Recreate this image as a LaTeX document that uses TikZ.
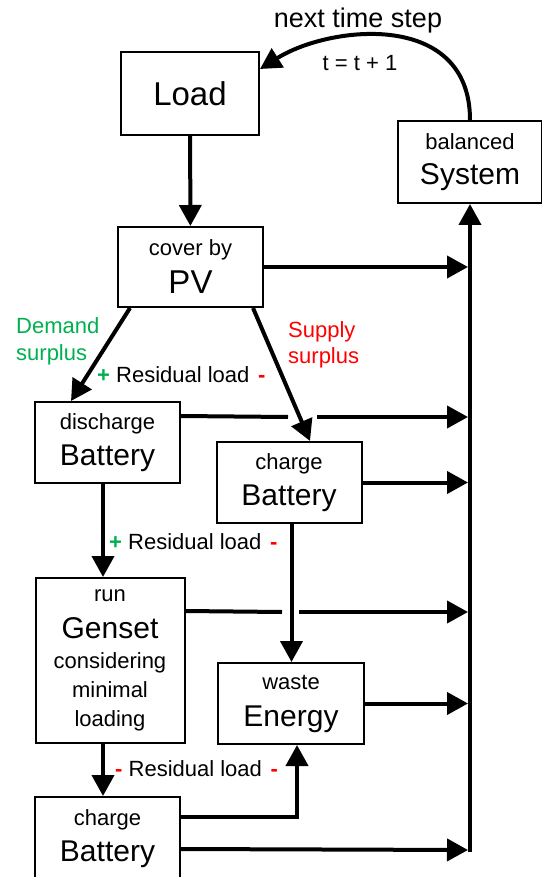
\documentclass[tikz,border=0pt]{standalone}
\usepackage{fontspec}
\setmainfont{Liberation Sans}
\usetikzlibrary{arrows.meta,calc}
\definecolor{dgreen}{RGB}{0,176,80}
\definecolor{dred}{RGB}{255,0,0}
\newcommand\fsz[1]{\fontsize{#1}{29}\selectfont}
\begin{document}
\begin{tikzpicture}[x=1pt,y=-1pt,
  box/.style={draw, line width=2pt, inner sep=0pt, align=center, font=\fsz{22}},
  ln/.style={line width=4pt},
  arr/.style={line width=4pt, -{Triangle[length=21pt,width=22pt]}},
  lbl/.style={inner sep=0pt, font=\fsz{22}},
]
\useasboundingbox (0,0) rectangle (541,877);

% boxes
\node[box, minimum width=138, minimum height=83] (load) at (190,93.5) {\fsz{33}Load};
\node[box, minimum width=144, minimum height=82] (sys) at (470,162) {balanced\\[6pt]{\fsz{30}System}};
\node[box, minimum width=145, minimum height=80] (pv) at (190.5,267) {cover by\\[9pt]{\fsz{33}PV}};
\node[box, minimum width=145, minimum height=81] (dis) at (107.5,442.5) {discharge\\[7pt]{\fsz{30}Battery}};
\node[box, minimum width=145, minimum height=81] (cb1) at (289,482.5) {charge\\[7pt]{\fsz{30}Battery}};
\node[box, minimum width=149, minimum height=165] (gen) at (110,660.5) {run\\[8pt]{\fsz{30}Genset}\\[1pt]considering\\minimal\\loading};
\node[box, minimum width=146, minimum height=81] (en) at (291,703.5) {waste\\[8pt]{\fsz{30}Energy}};
\node[box, minimum width=145, minimum height=83] (cb2) at (107.5,838.5) {charge\\[7pt]{\fsz{30}Battery}};

% helper coordinates
\coordinate (bus) at (468,0);
\coordinate (busbot) at (470,852);
\coordinate (xl) at (103,0);
\coordinate (xm) at (291.5,0);

% texts
\node[lbl, font=\fsz{27}] (nts) at (358,21) {next time step};
\node[lbl] (tt) at (360,63) {t = t + 1};
\node[lbl, anchor=north west, align=left, text=dgreen, font=\fontsize{22}{27}\selectfont] (dsur) at (16,317) {Demand\\surplus};
\node[lbl, anchor=north west, align=left, text=dred, font=\fontsize{22}{26}\selectfont] (ssur) at (288,321) {Supply\\surplus};
\node[lbl, anchor=base west] (rl1) at (97,382) {{\color{dgreen}\textbf{+}} Residual load\hspace{2.5pt} {\color{dred}\textbf{-}}};
\node[lbl, anchor=base west] (rl2) at (109,549) {{\color{dgreen}\textbf{+}} Residual load\hspace{2.5pt} {\color{dred}\textbf{-}}};
\node[lbl, anchor=base west] (rl3) at (115,776) {{\color{dred}\textbf{-}} Residual load\hspace{2.5pt} {\color{dred}\textbf{-}}};

% loop back
\draw[arr] (sys.north) .. controls (470,10) and (330,25) .. ($(load.north east)+(0,18)$);

% main flow
\draw[arr] (load) -- (pv);
\draw[arr] ($(pv.south west)+(13,0)$) -- ($(dis.north west)+(37,0)$);
\draw[arr] ($(pv.south east)+(-11,0)$) -- ($(cb1.north)+(21,0)$);
\draw[arr] (dis.south -| xl) -- (gen.north -| xl);
\draw[arr] (cb1.south -| xm) -- (en.north -| xm);
\draw[arr] (gen.south -| xl) -- (cb2.north -| xl);
\draw[arr] ($(cb2.north east)+(0,21)$) -| ($(en.south)+(6,0)$);

% to the balanced system bus
\draw[arr] (pv.east) -- (pv.east -| bus);
\draw[ln] ($(dis.north east)+(0,15)$) -- (288,417);
\draw[arr] (317,417) -- (bus |- 0,417);
\draw[arr] (cb1.east) -- (cb1.east -| bus);
\draw[ln] ($(gen.north east)+(0,34)$) -- (282,612);
\draw[arr] (299,612) -- (bus |- 0,612);
\draw[arr] (en.east) -- (en.east -| bus);
\draw[arr] ($(cb2.north east)+(0,53)$) -- (bus |- 0,850);
\draw[arr] (busbot) -- (sys.south);
\end{tikzpicture}
\end{document}
